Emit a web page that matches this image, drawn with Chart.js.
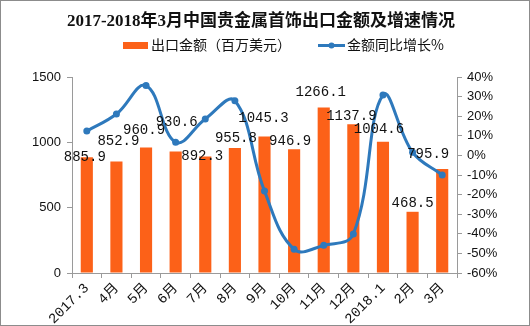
<!DOCTYPE html>
<html><head><meta charset="utf-8">
<script src="https://cdn.jsdelivr.net/npm/chart.js@4/dist/chart.umd.min.js"></script>
<style>html,body{margin:0;padding:0;background:#fff;}canvas{display:block;}</style>
</head><body>
<canvas id="c" width="530" height="326"></canvas>
<script>
const titleText = '2017-2018年3月中国贵金属首饰出口金额及增速情况';
const barLabel = '出口金额（百万美元）';
const lineLabel = '金额同比增长%';
const categories = ['2017.3','4月','5月','6月','7月','8月','9月','10月','11月','12月','2018.1','2月','3月'];
const exportValues = [885.9, 852.9, 960.9, 930.6, 892.3, 955.8, 1045.3, 946.9, 1266.1, 1137.9, 1004.6, 468.5, 795.9];
const growthRates = [12.4, 21.1, 35.6, 6.7, 18.6, 27.9, -18.2, -47.9, -45.9, -40.1, 30.8, 1.6, -10.0];
const leftTicks = [0, 500, 1000, 1500];
const rightTicks = [-60, -50, -40, -30, -20, -10, 0, 10, 20, 30, 40];
// label placement tweaks (dx, dy) relative to bar top
const labelOffsets = [[-2,0],[2,-20],[-2,-17],[1,-29],[-3,0],[1,-10],[-1,-18],[-4,-8],[-3,-15],[-2,-8],[-4,-12],[0,-8],[-14,-15]];

const ORANGE = '#FC6118';
const BLUE = '#2E79BC';
const AXIS = '#9a9a9a';
const CJK = '"Noto Sans CJK SC"';

const decor = {
  id: 'decor',
  afterDraw(chart) {
    const ctx = chart.ctx;
    ctx.save();
    ctx.strokeStyle = '#8c8c8c';
    ctx.lineWidth = 1;
    ctx.strokeRect(0.5, 0.5, 529, 325);
    ctx.fillStyle = '#111';
    ctx.font = 'bold 17px "Liberation Serif", ' + CJK;
    ctx.textAlign = 'center';
    ctx.textBaseline = 'middle';
    ctx.fillText(titleText, 261, 22);
    ctx.fillStyle = ORANGE;
    ctx.fillRect(123, 42, 25, 7);
    ctx.fillStyle = '#111';
    ctx.font = '14px ' + CJK;
    ctx.textAlign = 'left';
    ctx.fillText(barLabel, 151, 45);
    ctx.strokeStyle = BLUE;
    ctx.lineWidth = 3;
    ctx.beginPath(); ctx.moveTo(318, 45.5); ctx.lineTo(345, 45.5); ctx.stroke();
    ctx.fillStyle = BLUE;
    ctx.beginPath(); ctx.arc(331.5, 45.5, 3, 0, Math.PI*2); ctx.fill();
    ctx.fillStyle = '#111';
    ctx.fillText(lineLabel, 347, 45);
    ctx.restore();
  },
  afterDatasetsDraw(chart) {
    const ctx = chart.ctx;
    const meta = chart.getDatasetMeta(0);
    ctx.save();
    ctx.fillStyle = '#111';
    ctx.font = '14px "Liberation Mono", monospace';
    ctx.textAlign = 'center';
    ctx.textBaseline = 'middle';
    meta.data.forEach((bar, i) => {
      const o = labelOffsets[i];
      ctx.fillText(exportValues[i].toFixed(1), bar.x + o[0], bar.y + o[1]);
    });
    ctx.restore();
  }
};

new Chart(document.getElementById('c'), {
  data: {
    labels: categories,
    datasets: [
      { type: 'bar', label: barLabel, data: exportValues, backgroundColor: ORANGE,
        yAxisID: 'y', order: 1, barPercentage: 0.41, categoryPercentage: 1 },
      { type: 'line', label: lineLabel, data: growthRates, borderColor: BLUE, backgroundColor: BLUE,
        borderWidth: 3, pointRadius: 3.5, pointBackgroundColor: BLUE, pointBorderWidth: 0,
        tension: 0.4, yAxisID: 'y1', order: 0 }
    ]
  },
  options: {
    responsive: false,
    animation: false,
    layout: { padding: { top: 77, left: 0, right: 0, bottom: 0 } },
    plugins: { legend: { display: false }, title: { display: false }, tooltip: { enabled: false } },
    scales: {
      x: {
        offset: true,
        grid: { drawOnChartArea: false, drawTicks: true, tickLength: 5, offset: true, color: AXIS },
        border: { color: AXIS },
        ticks: { color: '#111', font: { family: '"Liberation Mono", ' + CJK, size: 14 },
                 minRotation: 45, maxRotation: 45, padding: 2, autoSkip: false },
        afterFit(s) { s.height = 326 - 273; }
      },
      y: {
        position: 'left', min: 0, max: 1500,
        afterBuildTicks(s) { s.ticks = leftTicks.map(v => ({ value: v })); },
        grid: { drawOnChartArea: false, drawTicks: true, tickLength: 5, color: AXIS },
        border: { color: AXIS },
        ticks: { color: '#111', font: { family: '"Liberation Sans"', size: 13 }, padding: 6,
                 callback: v => String(v) },
        afterFit(s) { s.width = 72; }
      },
      y1: {
        position: 'right', min: -60, max: 40,
        afterBuildTicks(s) { s.ticks = rightTicks.map(v => ({ value: v })); },
        grid: { drawOnChartArea: false, drawTicks: true, tickLength: 5, color: AXIS },
        border: { color: AXIS },
        ticks: { color: '#111', font: { family: '"Liberation Sans"', size: 13 }, padding: 5,
                 callback: v => v + '%' },
        afterFit(s) { s.width = 530 - 457; }
      }
    }
  },
  plugins: [decor]
});
</script>
</body></html>
